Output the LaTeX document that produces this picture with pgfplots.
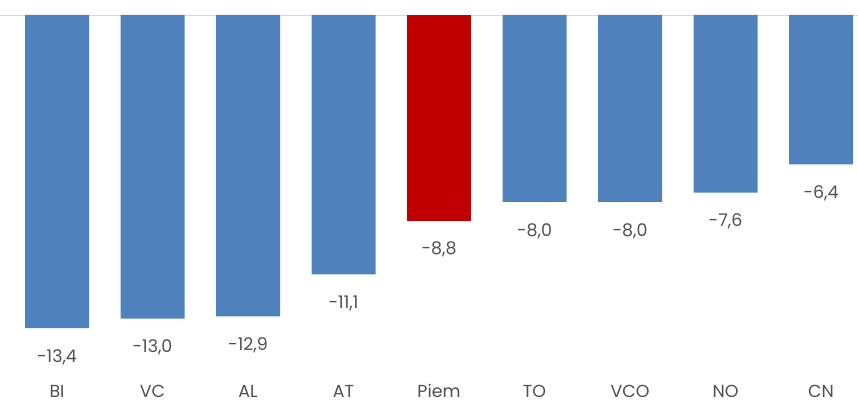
\documentclass[border=0pt]{standalone}
\usepackage{pgfplots}
\pgfplotsset{compat=1.18}
\usepackage{fontspec}
\setmainfont{Poppins}
\definecolor{barblue}{HTML}{4F81BD}
\definecolor{barred}{HTML}{C00000}
\definecolor{txt}{HTML}{505050}
\begin{document}
\begin{tikzpicture}
\begin{axis}[
  at={(0,0)}, anchor=south west,
  scale only axis, width=858bp, height=403bp,
  xmin=-0.597, xmax=8.387, ymin=-16.61, ymax=0.642,
  axis line style={draw=none},
  tick style={draw=none},
  ytick=\empty,
  extra y ticks={0}, extra y tick labels={},
  extra y tick style={grid=major, major grid style={draw=black!15, line width=0.8pt}},
  xtick={0,...,8},
  xticklabels={BI,VC,AL,AT,Piem,TO,VCO,NO,CN},
  x tick label style={anchor=center, yshift=16bp, font=\fontsize{17.5}{20}\selectfont, text=txt},
  ybar, bar width=0.67, bar shift=0pt,
  clip=false,
  /pgf/number format/assume math mode=true,
  /pgf/number format/use comma,
  /pgf/number format/fixed,
  /pgf/number format/fixed zerofill,
  /pgf/number format/precision=1,
  nodes near coords,
  every node near coord/.append style={anchor=center, yshift=-29bp, font=\fontsize{17.5}{20}\selectfont, text=txt},
]
\addplot[fill=barblue, draw=none] coordinates {(0,-13.4) (1,-13.0) (2,-12.9) (3,-11.1) (5,-8.0) (6,-8.0) (7,-7.6) (8,-6.4)};
\addplot[fill=barred, draw=none] coordinates {(4,-8.8)};
\end{axis}
\pgfresetboundingbox
\useasboundingbox (0,0) rectangle (858bp,403bp);
\end{tikzpicture}
\end{document}
